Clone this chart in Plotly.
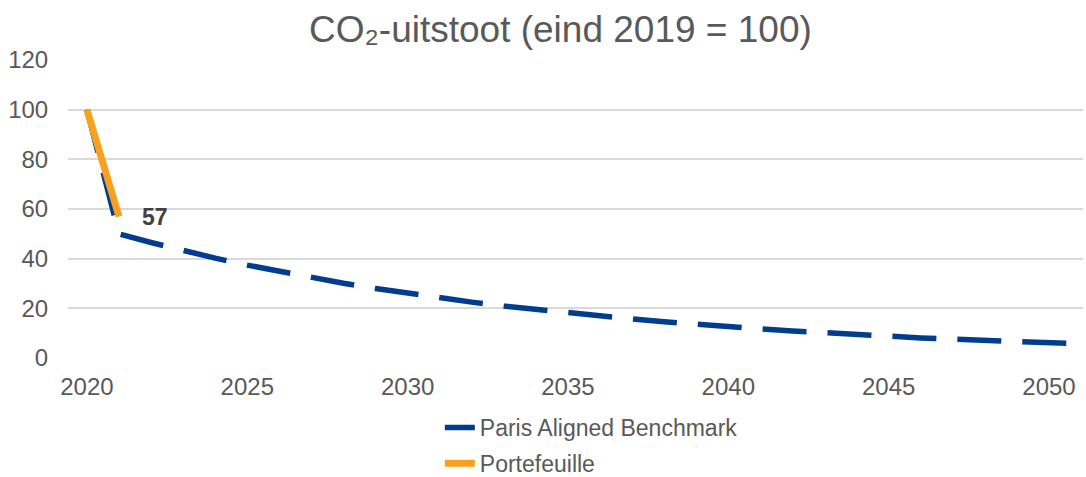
import plotly.graph_objects as go

years = list(range(2020, 2052))
benchmark = [100, 50, 46.5, 43.2, 40.2, 37.4, 34.8, 32.4, 30.1, 28.0, 26.0, 24.2,
             22.5, 20.9, 19.5, 18.1, 16.8, 15.7, 14.6, 13.5, 12.6, 11.7, 10.9,
             10.1, 9.4, 8.8, 8.1, 7.6, 7.0, 6.6, 6.1, 5.7]
portfolio_years = [2020, 2021]
portfolio = [100, 57]
label_year = 2021
label_value = 57

TXT = "#595959"
FONT = "Liberation Sans, Arial, sans-serif"

fig = go.Figure()
fig.add_trace(go.Scatter(
    x=years, y=benchmark, mode="lines", name="Paris Aligned Benchmark",
    line=dict(color="#003D8F", width=5.5, dash="44px,21px"),
    legendgroup="a"))
fig.add_trace(go.Scatter(
    x=portfolio_years, y=portfolio, mode="lines", name="Portefeuille",
    line=dict(color="#F7A11F", width=7),
    legendgroup="b"))

fig.add_annotation(x=label_year, y=label_value, text="<b>57</b>", showarrow=False,
                   xshift=36, yshift=-1, font=dict(size=23, color="#404040", family=FONT))

fig.update_layout(
    width=1086, height=477,
    paper_bgcolor="white", plot_bgcolor="white",
    margin=dict(l=68, r=3, t=60, b=119, autoexpand=False),
    font=dict(family=FONT, color=TXT, size=23),
    title=dict(text="CO₂-uitstoot (eind 2019 = 100)", x=0.516, xanchor="center",
               y=0.967, yanchor="top", font=dict(size=37, color=TXT, family=FONT)),
    xaxis=dict(range=[2019.41, 2051.06], tick0=2020, dtick=5, showgrid=False,
               zeroline=False, showline=False, ticks="outside", ticklen=7,
               tickcolor="rgba(0,0,0,0)", tickfont=dict(size=24, color=TXT),
               automargin=False),
    yaxis=dict(range=[0, 120], dtick=20, showgrid=True, gridcolor="#D9D9D9",
               gridwidth=1.5, zeroline=False, showline=False, ticks="outside",
               ticklen=14, tickcolor="rgba(0,0,0,0)", tickfont=dict(size=24, color=TXT),
               automargin=False),
    legend=dict(orientation="v", xref="container", yref="container",
                x=0.405, xanchor="left", y=0.149, yanchor="top",
                font=dict(size=23, color=TXT), tracegroupgap=3,
                bgcolor="rgba(0,0,0,0)"),
    showlegend=True,
)

fig.write_html("out.html", config={"displayModeBar": False},
               post_script="document.body.style.margin='0px';")
